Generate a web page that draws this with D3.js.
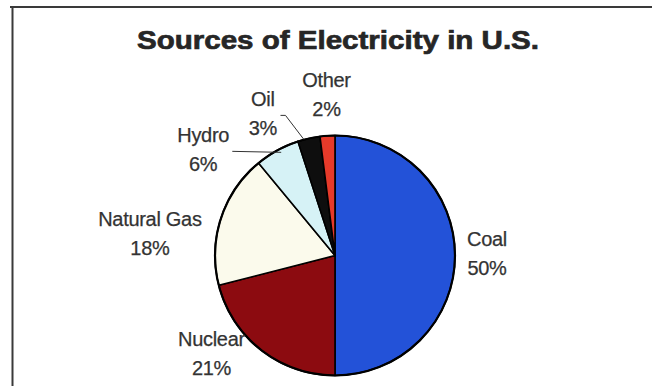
<!DOCTYPE html>
<html>
<head>
<meta charset="utf-8">
<script src="https://cdn.jsdelivr.net/npm/d3@7/dist/d3.min.js"></script>
<style>
  html, body { margin: 0; padding: 0; background: #fff; }
  svg { display: block; }
  text { font-family: "Liberation Sans", Arial, sans-serif; }
</style>
</head>
<body>
<script>
// ---- data ----
const title = "Sources of Electricity in U.S.";
const categories = ["Coal", "Nuclear", "Natural Gas", "Hydro", "Oil", "Other"];
const values = [50, 21, 18, 6, 3, 2];
const sliceColors = ["#2352d8", "#8c0b10", "#fbfaec", "#d6f2f6", "#0e0e0e", "#e63a2a"];
const hasLeader = [false, false, false, true, true, false];
// label nudges relative to each slice's outer mid-point (layout only)
const labelNudge = [[32, -2], [-50, 3], [-71, 15], [-74, -1], [-46, -25], [-1, -41]];

// ---- layout ----
const W = 652, H = 386;
const cx = 335, cy = 255.5, R = 120;

const svg = d3.select("body").append("svg").attr("width", W).attr("height", H);

// frame
svg.append("line").attr("x1", 10).attr("x2", W).attr("y1", 7).attr("y2", 7)
  .attr("stroke", "#3a3a3a").attr("stroke-width", 2);
svg.append("line").attr("x1", 12.5).attr("x2", 12.5).attr("y1", 6).attr("y2", H)
  .attr("stroke", "#3a3a3a").attr("stroke-width", 2);

// title
svg.append("text").attr("x", 338).attr("y", 49).attr("text-anchor", "middle")
  .attr("font-size", 26).attr("font-weight", "bold").attr("fill", "#262626")
  .attr("stroke", "#262626").attr("stroke-width", 0.7)
  .attr("textLength", 402).attr("lengthAdjust", "spacingAndGlyphs")
  .text(title);

const pie = d3.pie().sort(null).value(d => d);
const arcs = pie(values);
const arc = d3.arc().innerRadius(0).outerRadius(R);

const g = svg.append("g").attr("transform", `translate(${cx},${cy})`);

g.selectAll("path.slice").data(arcs).enter().append("path")
  .attr("class", "slice")
  .attr("d", arc)
  .attr("fill", (d, i) => sliceColors[i])
  .attr("stroke", "#000").attr("stroke-width", 1.6).attr("stroke-linejoin", "round");

g.append("circle").attr("r", R).attr("fill", "none").attr("stroke", "#000").attr("stroke-width", 2.2);

// labels
const fs = 20;
arcs.forEach((d, i) => {
  const a = (d.startAngle + d.endAngle) / 2;
  const ox = Math.sin(a) * R, oy = -Math.cos(a) * R;
  const lx = ox + labelNudge[i][0], ly = oy + labelNudge[i][1];
  const t = g.append("text").attr("text-anchor", "middle").attr("font-size", fs)
    .attr("fill", "#333").attr("stroke", "#333").attr("stroke-width", 0.25)
    .attr("letter-spacing", -0.3);
  t.append("tspan").attr("x", lx).attr("y", ly - 7.5).text(categories[i]);
  t.append("tspan").attr("x", lx).attr("y", ly + 21.5).text(values[i] + "%");
  if (hasLeader[i]) {
    const bb = t.node().getBBox();
    const sx = bb.x + bb.width + 3;
    const sy = ly + 2;
    let pts;
    if (Math.abs(oy - sy) < 8) {
      pts = [[sx, sy], [ox + 4, oy + 2]];
    } else {
      pts = [[sx, sy], [sx + 5, sy], [ox - 5, oy + 1]];
    }
    g.append("path").attr("d", d3.line()(pts)).attr("fill", "none")
      .attr("stroke", "#333").attr("stroke-width", 1);
  }
});
</script>
</body>
</html>
